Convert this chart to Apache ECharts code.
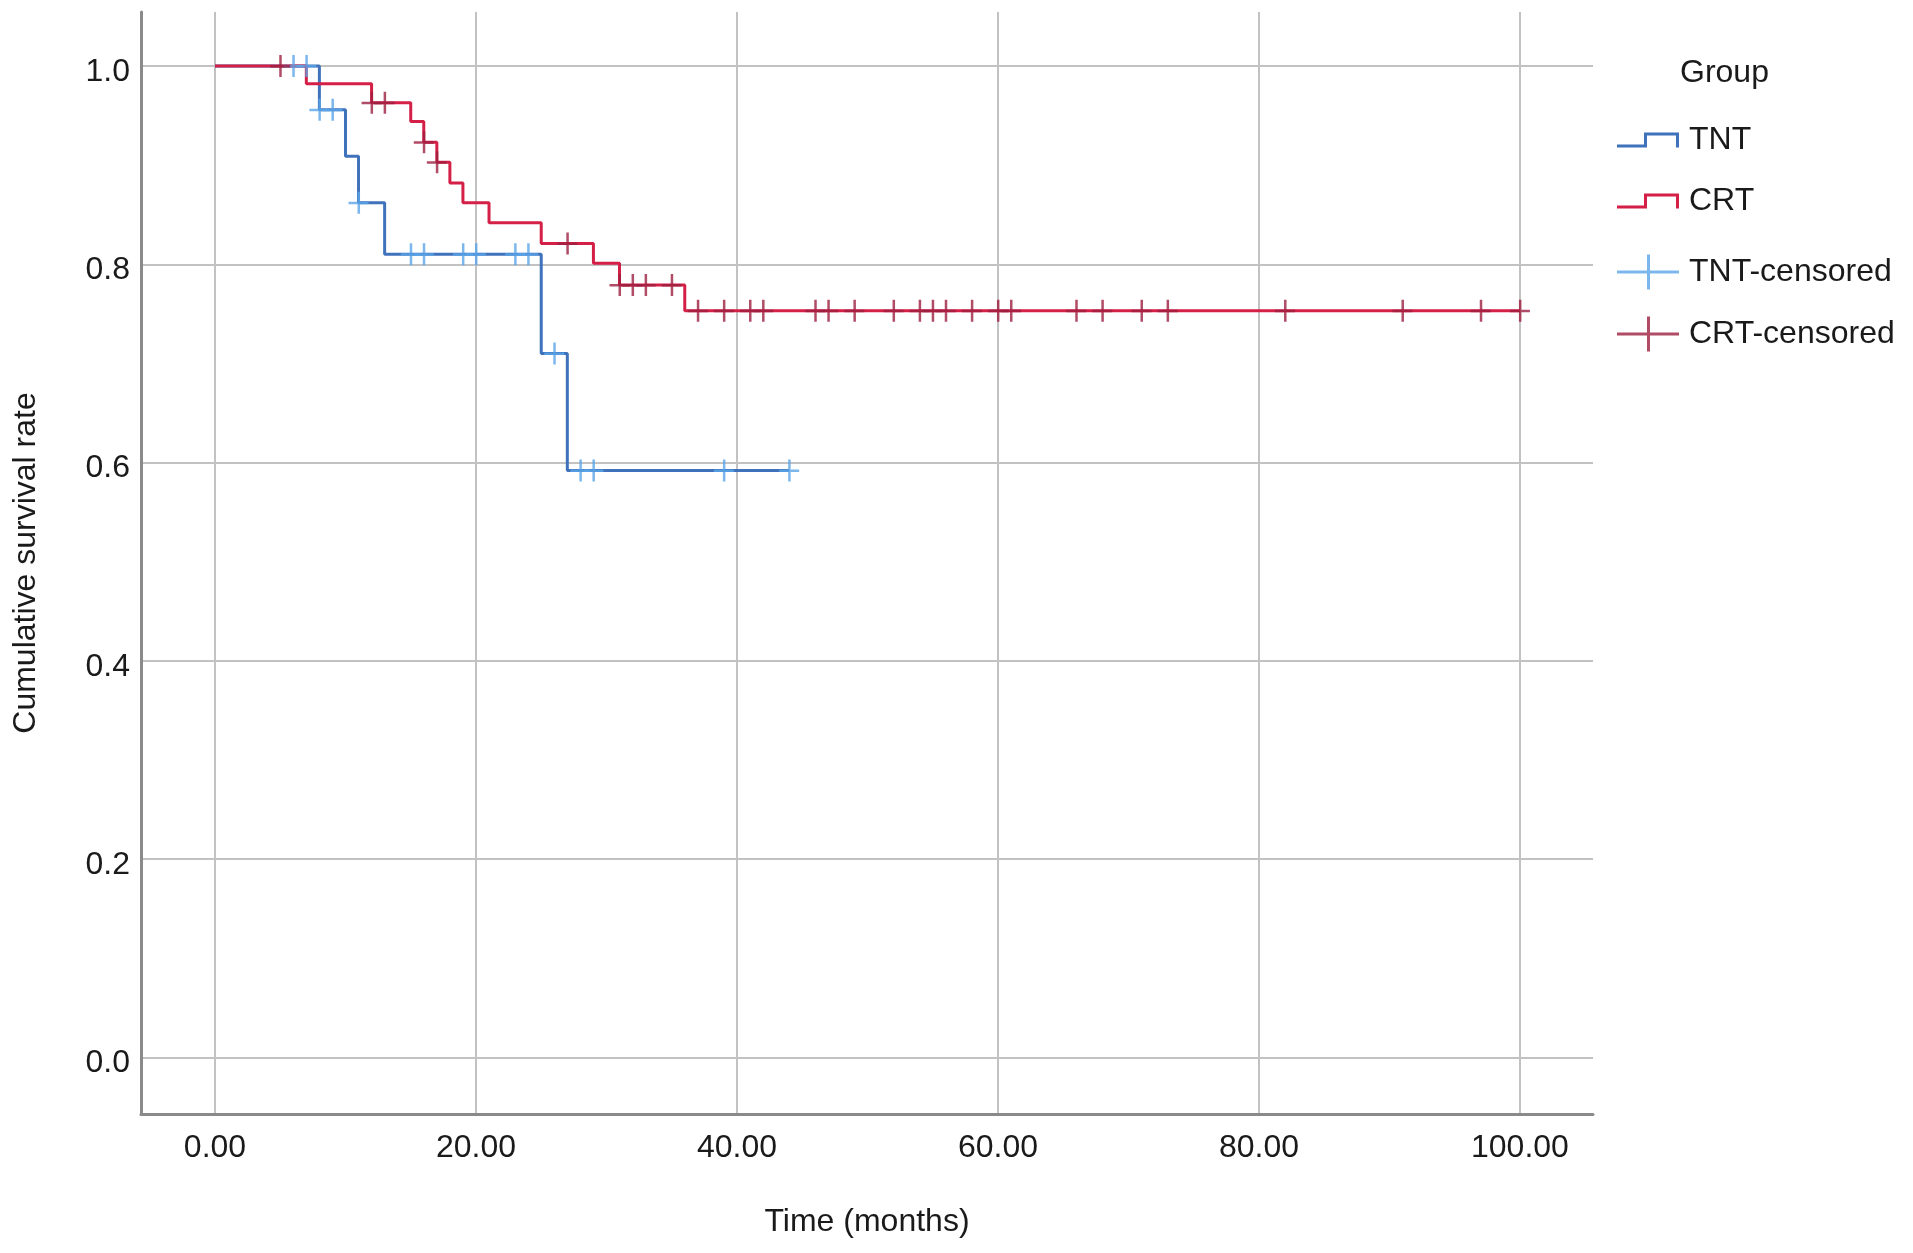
<!DOCTYPE html>
<html>
<head>
<meta charset="utf-8">
<title>Cumulative survival</title>
<script src="https://cdn.jsdelivr.net/npm/echarts@6/dist/echarts.min.js"></script>
<style>
  html, body { margin: 0; padding: 0; background: #ffffff; }
  #chart { width: 1913px; height: 1253px; }
</style>
</head>
<body>
<div id="chart"></div>
<script>
// step curves (time in months, cumulative survival after each event)
const tntTimes = [0, 8, 10, 11, 13, 25, 27, 44];
const tntSurv = [1.0, 0.956, 0.909, 0.862, 0.810, 0.710, 0.592, 0.592];
const crtTimes = [0, 7, 12, 15, 16, 17, 18, 19, 21, 25, 29, 31, 36, 100];
const crtSurv = [1.0, 0.982, 0.963, 0.944, 0.923, 0.903, 0.882, 0.862, 0.842, 0.821, 0.801, 0.779, 0.753, 0.753];

// censored cases
const tntCensorTimes = [6, 7, 8, 9, 11, 15, 16, 19, 20, 23, 24, 26, 28, 29, 39, 44];
const tntCensorSurv = [1.0, 1.0, 0.956, 0.956, 0.862, 0.810, 0.810, 0.810, 0.810, 0.810, 0.810, 0.710, 0.592, 0.592, 0.592, 0.592];
const crtCensorTimes = [5, 12, 13, 16, 17, 27, 31, 32, 33, 35, 37, 39, 41, 42, 46, 47, 49, 52, 54, 55, 56, 58, 60, 61, 66, 68, 71, 73, 82, 91, 97, 100];
const crtCensorSurv = [1.0, 0.963, 0.963, 0.923, 0.903, 0.821, 0.779, 0.779, 0.779, 0.779,
  0.753, 0.753, 0.753, 0.753, 0.753, 0.753, 0.753, 0.753, 0.753, 0.753, 0.753, 0.753,
  0.753, 0.753, 0.753, 0.753, 0.753, 0.753, 0.753, 0.753, 0.753, 0.753];

const xTicks = [0, 20, 40, 60, 80, 100];
const yTicks = [0, 0.2, 0.4, 0.6, 0.8, 1.0];

const zip = (xs, ys) => xs.map((x, i) => [x, ys[i]]);

const FONT = "'Liberation Sans', Arial, Helvetica, sans-serif";
const TEXT = '#1a1a1a';
const TNT_COLOR = '#3f72bb';
const CRT_COLOR = '#d41f47';
const TNT_CENS = '#5aa5e8';
const CRT_CENS = '#9c1f40';

const stepIcon = 'path://M0,12L30,12L30,15L0,15Z M27,0L30,0L30,15L27,15Z M27,0L62,0L62,3L27,3Z M59,0L62,0L62,15L59,15Z';
const plusIcon = 'path://M0,16L62,16L62,19L0,19Z M30,0L33,0L33,35L30,35Z';
const censorMark = 'path://M0,10L20,10L20,12.5L0,12.5Z M9,0L11.5,0L11.5,22L9,22Z';

const legendText = { fontFamily: FONT, fontSize: 32, color: TEXT, lineHeight: 36, padding: [0, 0, 0, 5] };
const makeLegend = (name, icon, w, h, color, top) => ({
  left: 1617, top: top, padding: 0, itemWidth: w, itemHeight: h,
  selectedMode: false, textStyle: legendText,
  data: [{ name: name, icon: icon, itemStyle: { color: color, borderWidth: 0 } }]
});

const chart = echarts.init(document.getElementById('chart'), null, { renderer: 'canvas' });
const option = {
  animation: false,
  backgroundColor: '#ffffff',
  textStyle: { fontFamily: FONT },
  title: {
    text: 'Group', left: 1680, top: 55, padding: 0,
    textStyle: { fontFamily: FONT, fontSize: 32, fontWeight: 'normal', color: TEXT, lineHeight: 36 }
  },
  legend: [
    makeLegend('TNT', stepIcon, 62, 15, TNT_COLOR, 122),
    makeLegend('CRT', stepIcon, 62, 15, CRT_COLOR, 183),
    makeLegend('TNT-censored', plusIcon, 62, 35, TNT_CENS, 254),
    makeLegend('CRT-censored', plusIcon, 62, 35, CRT_CENS, 316)
  ],
  grid: { left: 141, right: 320, top: 12, bottom: 139, containLabel: false },
  xAxis: {
    type: 'value', min: -5.67, max: 105.6,
    name: 'Time (months)', nameLocation: 'middle', nameGap: 92,
    nameTextStyle: { fontFamily: FONT, fontSize: 32, color: TEXT },
    axisLine: { onZero: false, lineStyle: { color: '#8a8a8a', width: 3 } },
    axisTick: { show: false, customValues: xTicks },
    axisLabel: { customValues: xTicks, margin: 18, fontFamily: FONT, fontSize: 32, color: TEXT,
      formatter: v => v.toFixed(2) },
    splitLine: { show: true, lineStyle: { color: '#c2c2c2', width: 2 } }
  },
  yAxis: {
    type: 'value', min: -0.0572, max: 1.0545,
    name: 'Cumulative survival rate', nameLocation: 'middle', nameGap: 99,
    nameTextStyle: { fontFamily: FONT, fontSize: 32, color: TEXT },
    axisLine: { show: true, onZero: false, lineStyle: { color: '#8a8a8a', width: 3 } },
    axisTick: { show: false, customValues: yTicks },
    axisLabel: { customValues: yTicks, margin: 11, verticalAlign: 'top', lineHeight: 12,
      fontFamily: FONT, fontSize: 32, color: TEXT, formatter: v => v.toFixed(1) },
    splitLine: { show: true, lineStyle: { color: '#c2c2c2', width: 2 } }
  },
  series: [
    { name: 'TNT', type: 'line', step: 'end', symbol: 'none', data: zip(tntTimes, tntSurv),
      color: TNT_COLOR, lineStyle: { color: TNT_COLOR, width: 3 }, z: 2 },
    { name: 'CRT', type: 'line', step: 'end', symbol: 'none', data: zip(crtTimes, crtSurv),
      color: CRT_COLOR, lineStyle: { color: CRT_COLOR, width: 3 }, z: 3 },
    { name: 'TNT-censored', type: 'scatter', symbol: censorMark, symbolSize: [20, 22],
      data: zip(tntCensorTimes, tntCensorSurv), itemStyle: { color: TNT_CENS }, z: 4 },
    { name: 'CRT-censored', type: 'scatter', symbol: censorMark, symbolSize: [20, 22],
      data: zip(crtCensorTimes, crtCensorSurv), itemStyle: { color: CRT_CENS }, z: 5 }
  ]
};

chart.setOption(option);
</script>
</body>
</html>
